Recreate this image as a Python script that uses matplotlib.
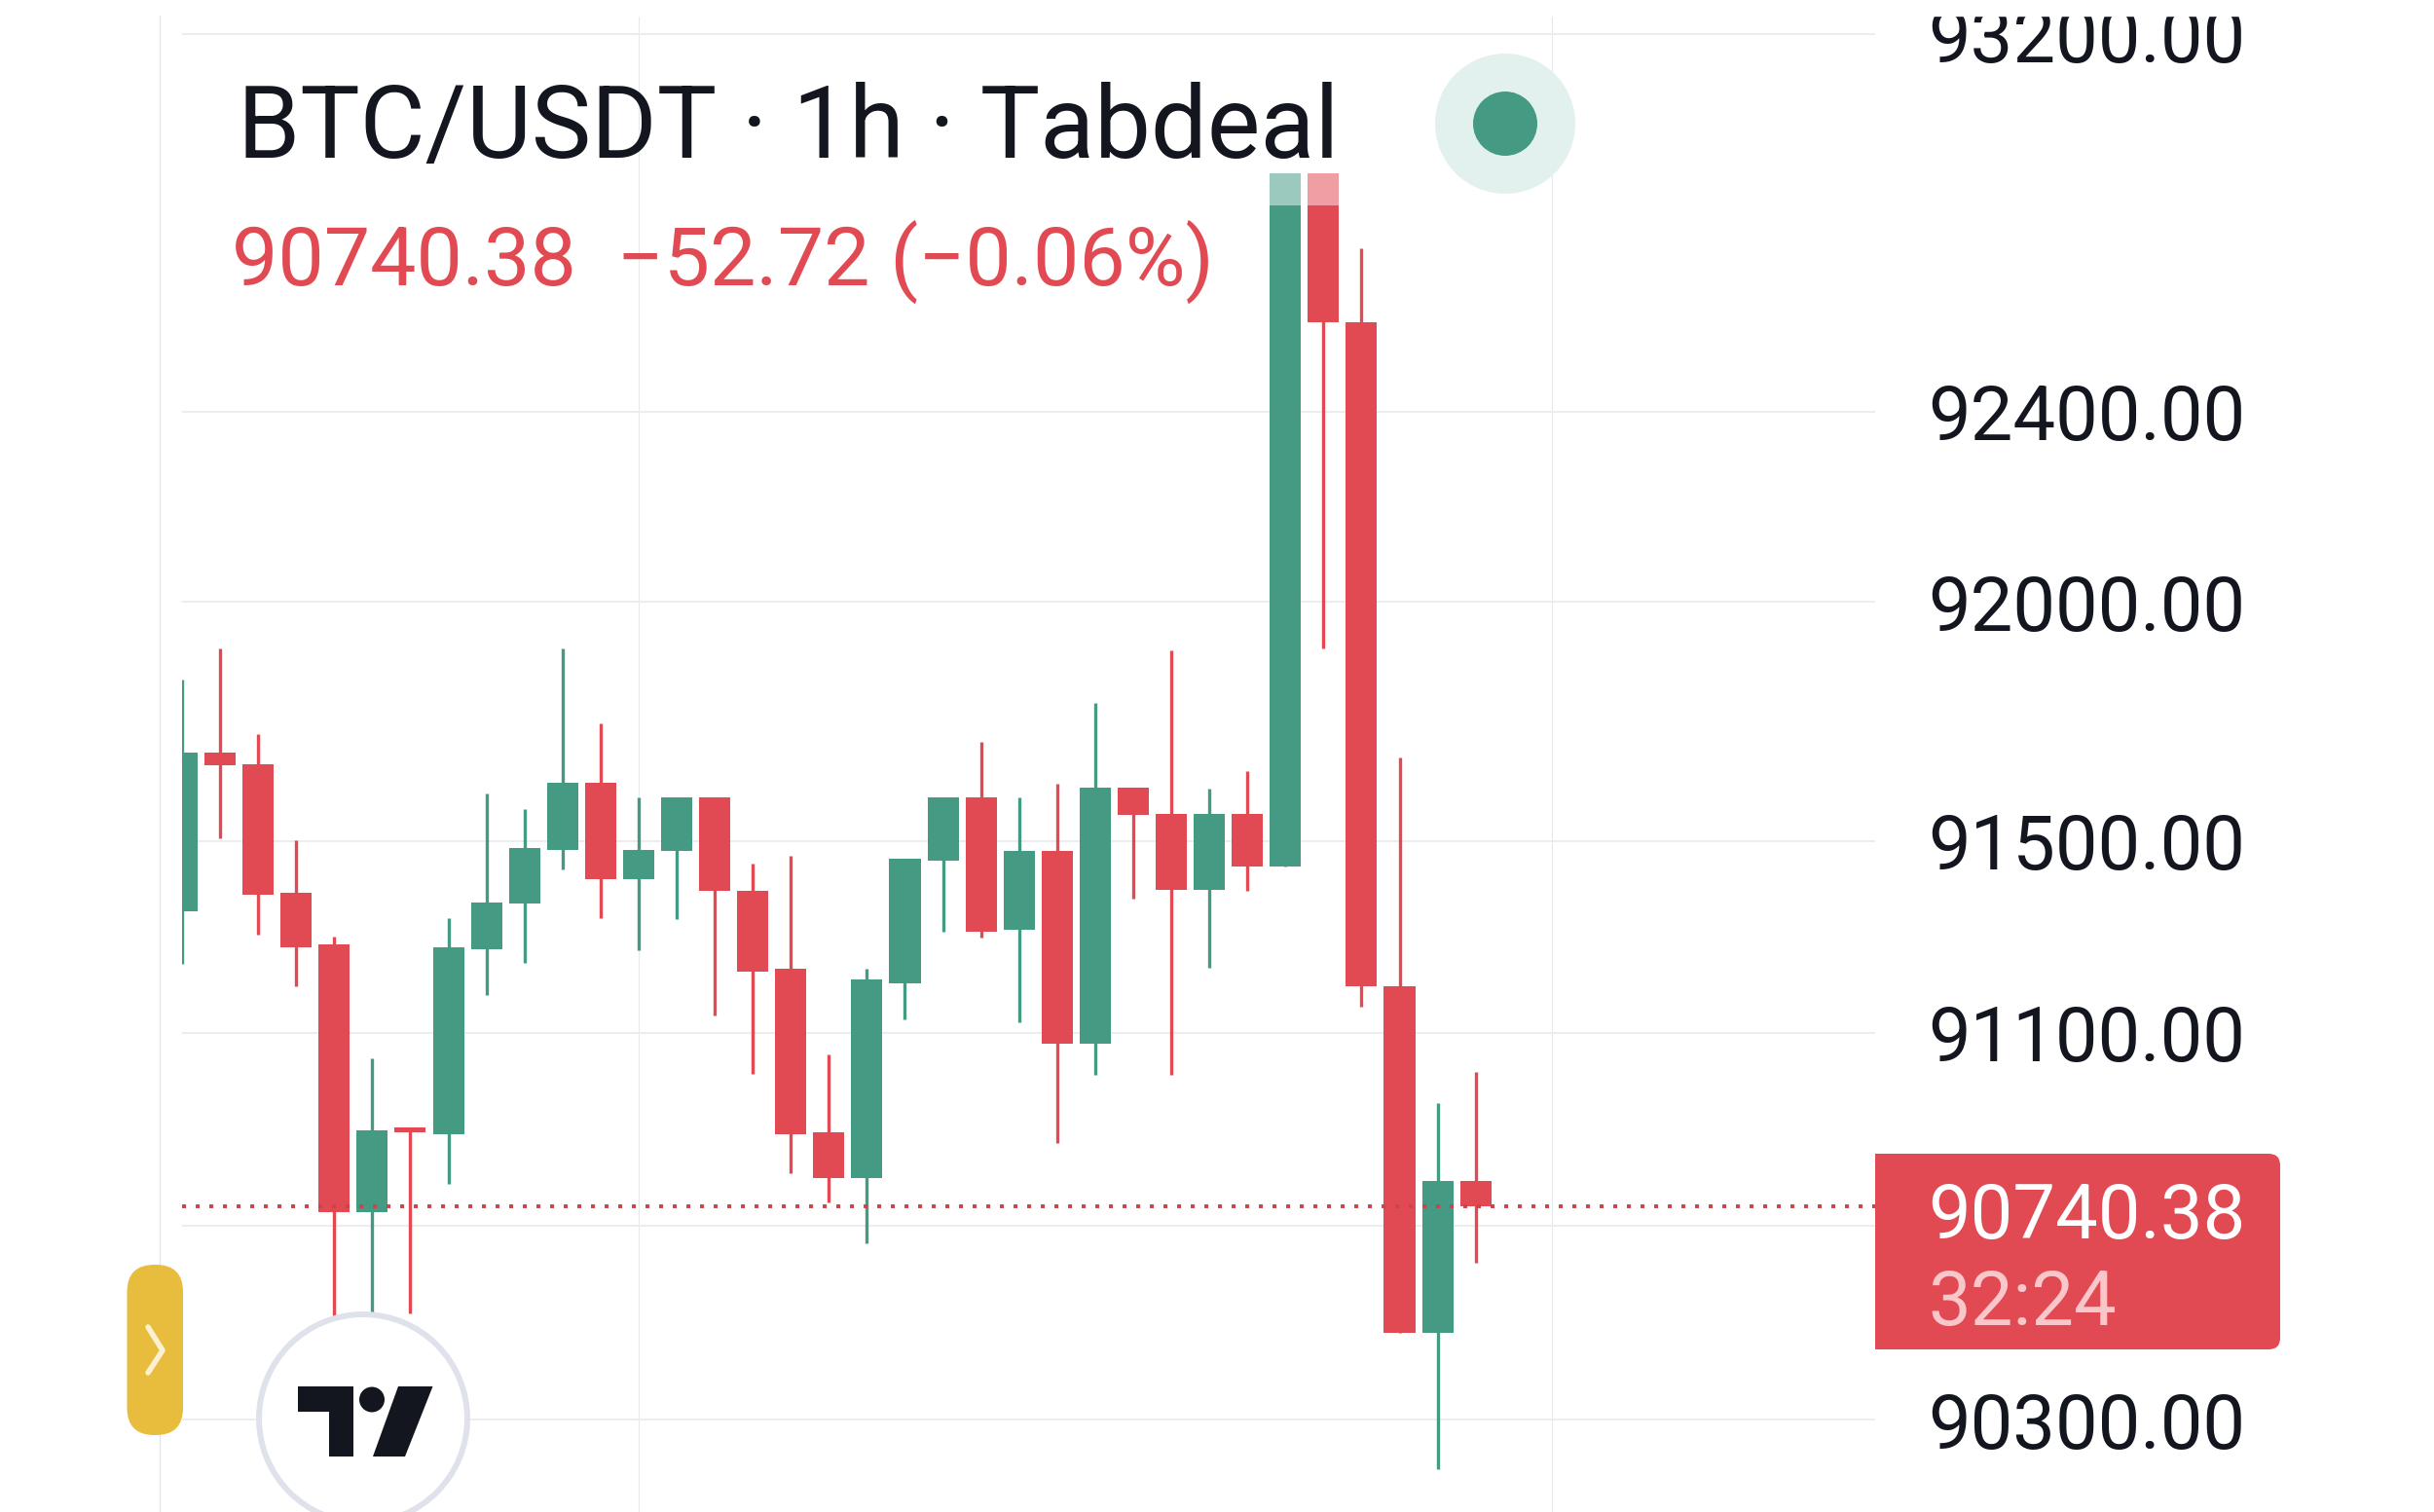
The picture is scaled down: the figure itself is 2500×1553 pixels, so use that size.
import matplotlib
matplotlib.use('Agg')
import matplotlib.pyplot as plt
from matplotlib.patches import Circle, FancyBboxPatch, Polygon, Rectangle
from matplotlib.ticker import NullLocator

# candles
opens = [91353, 91684, 91661, 91391, 91285, 90729, 90903, 90890, 91275, 91369, 91482, 91622,
         91420, 91479, 91590, 91395, 91233, 90893, 90800, 91204, 91459, 91590, 91314, 91479,
         91077, 91612, 91557, 91398, 91557, 91446, 92903, 92588, 91198, 90479, 90793.1]
highs = [91837, 91902, 91723, 91502, 91301, 91048, 90903, 91340, 91599, 91567, 91902, 91746,
         91590, 91590, 91590, 91453, 91469, 91055, 91233, 91463, 91590, 91707, 91590, 91619,
         91788, 91612, 91899, 91609, 91645, 92903, 92903, 92745, 91674, 90955, 91019]
lows = [91243, 91505, 91304, 91198, 90470, 90470, 90520, 90787, 91178, 91246, 91440, 91340,
        91272, 91337, 91136, 91016, 90810, 90748, 90665, 91129, 91311, 91298, 91123, 90871,
        91013, 91379, 91013, 91236, 91395, 91446, 91902, 91155, 90479, 90198, 90623]
closes = [91684, 91658, 91388, 91279, 90729, 90897, 90893, 91279, 91372, 91485, 91622, 91420,
          91482, 91590, 91395, 91227, 90890, 90800, 91211, 91463, 91590, 91311, 91479, 91077,
          91612, 91554, 91398, 91557, 91446, 92903, 92588, 91198, 90479, 90793.1, 90740.38]

tick_prices = [93200, 92400, 92000, 91500, 91100, 90700, 90300]
tick_labels = ['93200.00', '92400.00', '92000.00', '91500.00', '91100.00', '', '90300.00']
time_grid = [12, 36]
last_price = 90740.38

GREEN = '#459A84'
RED = '#E14A52'
DARK = '#14161F'
FONT = 'Roboto'

W, H = 2500, 1553
fig = plt.figure(figsize=(W / 100, H / 100), dpi=100, facecolor='white')

# price pane
ax = fig.add_axes([187 / W, 0, (1926 - 187) / W, 1])
ax.set_yscale('log')
colors = [GREEN if c >= o else RED for o, c in zip(opens, closes)]
xs = list(range(len(opens)))
ax.vlines(xs, lows, highs, colors=colors, lw=2.4, zorder=3)
ax.bar(xs, [abs(c - o) for o, c in zip(opens, closes)], bottom=[min(o, c) for o, c in zip(opens, closes)],
       width=0.82, color=colors, zorder=4)
ax.axhline(last_price, color='#C9444C', lw=2.8, linestyle=(0, (1.05, 2.55)), zorder=5)
ax.set_xlim(0, 44.5)
ax.set_ylim(90110, 93272)
ax.set_xticks(time_grid)
ax.set_yticks(tick_prices)
ax.set_yticklabels(tick_labels, fontsize=56, color=DARK, family=FONT)
ax.yaxis.set_minor_locator(NullLocator())
ax.yaxis.tick_right()
ax.tick_params(axis='y', length=0, pad=39)
ax.tick_params(axis='x', length=0, labelbottom=False)
ax.grid(axis='y', color='#ECEDEF', lw=1.4, zorder=1)
ax.grid(axis='x', color='#E8E9EC', lw=0.8, zorder=1)
ax.set_axisbelow(True)
for s in ax.spines.values():
    s.set_visible(False)

# overlay in pixels for the header, handle, logo and price box
ui = fig.add_axes([0, 0, 1, 1], zorder=10)
ui.set_xlim(0, W)
ui.set_ylim(H, 0)
ui.axis('off')
ui.patch.set_alpha(0)

ui.add_patch(Rectangle((0, 0), W, 16, color='white', zorder=1))
ui.plot([164, 164], [16, H], color='#E2E3E7', lw=0.9, zorder=1)
ui.add_patch(Rectangle((1300, 178), 85, 33, color='white', alpha=0.47, lw=0, zorder=2))

ui.text(244, 162, 'BTC/USDT · 1h · Tabdeal', fontsize=74.2, color=DARK, family=FONT, va='baseline', ha='left')
ui.text(237.5, 293, '90740.38  −52.72 (−0.06%)', fontsize=60.7, color=RED, family=FONT, va='baseline', ha='left')
ui.add_patch(Circle((1546, 127), 72, color='#E3F1EE', lw=0))
ui.add_patch(Circle((1546, 127), 33, color=GREEN, lw=0))

# current price box, square on the left and round on the right
ui.add_patch(FancyBboxPatch((1926, 1185), 416, 201, boxstyle='round,pad=0,rounding_size=12', color=RED, lw=0, zorder=3))
ui.add_patch(Rectangle((1926, 1185), 20, 201, color=RED, lw=0, zorder=3))
ui.text(1980, 1272, '90740.38', fontsize=56, color='white', family=FONT, va='baseline', zorder=4)
ui.text(1980, 1361, '32:24', fontsize=56, color='#F9C6CA', family=FONT, va='baseline', zorder=4)

# yellow handle
ui.add_patch(FancyBboxPatch((130.5, 1299), 57.5, 175, boxstyle='round,pad=0,rounding_size=28', color='#E8BC3C', lw=0, zorder=3))
ui.plot([152, 167, 152], [1363, 1387, 1410], color='#FBF0D0', lw=4, solid_capstyle='round', zorder=4)

# logo
ui.add_patch(Circle((373, 1457), 107, facecolor='white', edgecolor='#DFE2EA', lw=4.3, zorder=5))
ui.add_patch(Polygon([(306, 1424), (363, 1424), (363, 1496), (338, 1496), (338, 1450), (306, 1450)], color=DARK, lw=0, zorder=6))
ui.add_patch(Circle((382, 1437.5), 13, color=DARK, lw=0, zorder=6))
ui.add_patch(Polygon([(409, 1424), (444.5, 1424), (416, 1496), (383, 1496)], color=DARK, lw=0, zorder=6))

fig.savefig('out.png', dpi=100)
plt.close(fig)
